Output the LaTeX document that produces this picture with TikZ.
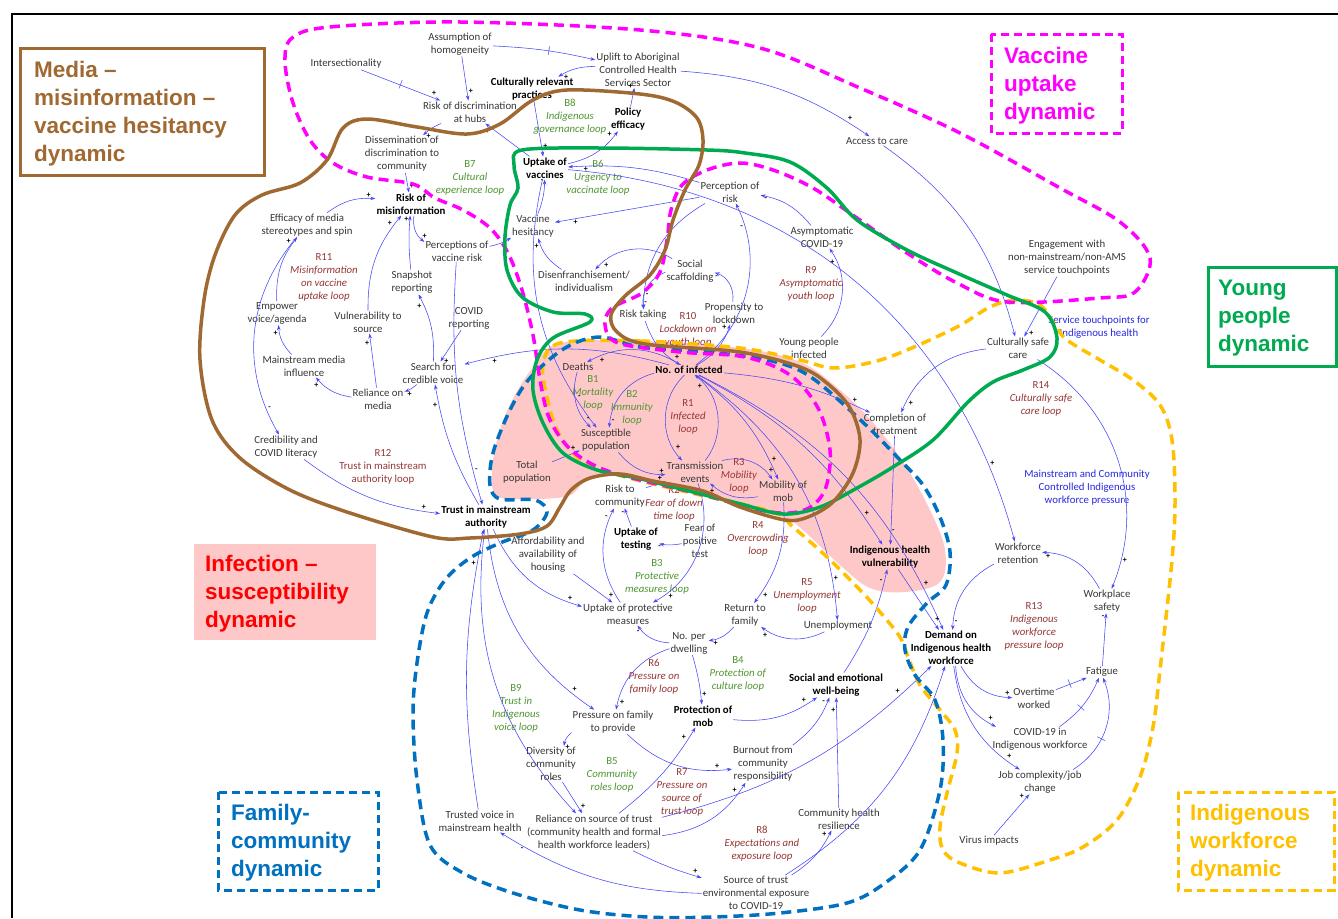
\documentclass[tikz,border=0pt]{standalone}
\usepackage{fontspec}
\setmainfont{Carlito}
\newfontfamily\bigf{Liberation Sans}
\usetikzlibrary{arrows.meta}
\definecolor{vtx}{RGB}{55,55,55}
\definecolor{rtx}{RGB}{150,55,55}
\definecolor{btx}{RGB}{80,150,50}
\definecolor{arc}{RGB}{70,70,250}
\definecolor{lbl}{RGB}{40,40,225}
\definecolor{mag}{RGB}{255,0,255}
\definecolor{grn}{RGB}{0,170,80}
\definecolor{brn}{RGB}{160,105,50}
\definecolor{bdsh}{RGB}{0,112,192}
\definecolor{ora}{RGB}{255,192,0}
\definecolor{pnk}{RGB}{255,200,200}
\newcommand{\itl}[1]{\textit{#1}}
\newcommand{\lnk}[4]{\draw[ar] (#1) to[#3] node[sg,pos=.88,auto]{#4} (#2);}
\tikzset{
 v/.style={font=\fontsize{10.8}{13}\selectfont, text=vtx, align=center, inner sep=1pt},
 vb/.style={v, font=\fontsize{10.8}{13}\selectfont\bfseries, text=black},
 rl/.style={v, text=rtx},
 bl/.style={v, text=btx},
 el/.style={v, text=lbl},
 ar/.style={draw=arc, line width=0.55pt, -{Stealth[length=5pt,width=3.5pt]}},
 sg/.style={font=\fontsize{8}{8}\selectfont\bfseries, text=black, inner sep=1pt},
 dl/.style={sloped, inner sep=0pt, font=\fontsize{10}{10}\selectfont, text=arc},
 big/.style={font=\bigf\bfseries\fontsize{22.5}{28}\selectfont, align=left, inner sep=0pt, anchor=north west},
 reg/.style={line width=3.5pt, line join=round},
 dreg/.style={line width=3.5pt, dash pattern=on 10pt off 6pt},
}
\begin{document}
\begin{tikzpicture}[x=1pt,y=-1pt]
\useasboundingbox (0,0) rectangle (1338,918);
\fill[white] (0,0) rectangle (1338,918);
\draw[line width=1.5pt] (12,918) -- (12,14) -- (1338,14);

% pink infection region
\fill[pnk] plot[smooth cycle, tension=0.6] coordinates {(560,343) (640,341) (740,348) (800,362) (840,390) (875,425) (905,465) (930,510) (945,550) (940,582) (905,592) (870,588) (840,565) (805,532) (785,518) (740,508) (700,492) (650,480) (610,476) (585,482) (568,496) (530,499) (497,496) (492,470) (500,430) (515,395) (535,365)};

% ---------- nodes ----------
\node[v] (assum) at (460,44) {Assumption of\\homogeneity};
\node[v] (inter) at (346,64) {Intersectionality};
\node[v] (uplift) at (638,70) {Uplift to Aboriginal\\Controlled Health\\Services Sector};
\node[vb] (crp) at (532,89) {Culturally relevant\\practices};
\node[v] (rdh) at (470,112) {Risk of discrimination\\at hubs};
\node[bl] (b8) at (570,117) {B8\\\itl{Indigenous}\\\itl{governance loop}};
\node[vb] (policy) at (628,119) {Policy\\efficacy};
\node[v] (access) at (877,141) {Access to care};
\node[v] (dissem) at (402,154) {Dissemination of\\discrimination to\\community};
\node[vb] (uptv) at (545,168) {Uptake of\\vaccines};
\node[bl] (b6) at (598,178) {B6\\\itl{Urgency to}\\\itl{vaccinate loop}};
\node[bl] (b7) at (470,178) {B7\\\itl{Cultural}\\\itl{experience loop}};
\node[v] (perc) at (730,192) {Perception of\\risk};
\node[vb] (rmis) at (411,204) {Risk of\\misinformation};
\node[v] (effic) at (307,225) {Efficacy of media\\stereotypes and spin};
\node[v] (vhes) at (533,226) {Vaccine\\hesitancy};
\node[v] (asym) at (822,237) {Asymptomatic\\COVID-19};
\node[v] (pvr) at (457,251) {Perceptions of\\vaccine risk};
\node[v] (engage) at (1067,258) {Engagement with\\non-mainstream/non-AMS\\service touchpoints};
\node[rl] (r11) at (324,277) {R11\\\itl{Misinformation}\\\itl{on vaccine}\\\itl{uptake loop}};
\node[v] (social) at (690,271) {Social\\scaffolding};
\node[v] (disen) at (584,281) {Disenfranchisement/\\individualism};
\node[rl] (r9) at (811,284) {R9\\\itl{Asymptomatic}\\\itl{youth loop}};
\node[v] (snap) at (412,282) {Snapshot\\reporting};
\node[v] (empower) at (277,313) {Empower\\voice/agenda};
\node[v] (vuln) at (368,322) {Vulnerability to\\source};
\node[v] (covrep) at (469,318) {COVID\\reporting};
\node[v] (propen) at (734,313) {Propensity to\\lockdown};
\node[v] (risktake) at (643,315) {Risk taking};
\node[rl] (r10) at (688,330) {R10\\\itl{Lockdown on}\\\itl{youth loop}};
\node[el] (stp) at (1099,327) {Service touchpoints for\\Indigenous health};
\node[v] (csc) at (1018,348) {Culturally safe\\care};
\node[v] (ypi) at (809,348) {Young people\\infected};
\node[v] (mmi) at (304,366) {Mainstream media\\influence};
\node[v] (search) at (433,373) {Search for\\credible voice};
\node[v] (deaths) at (578,367) {Deaths};
\node[vb] (noinf) at (689,370) {No. of infected};
\node[rl] (r14) at (1041,399) {R14\\\itl{Culturally safe}\\\itl{care loop}};
\node[v] (relmed) at (378,399) {Reliance on\\media};
\node[bl] (b1) at (593,393) {B1\\\itl{Mortality}\\\itl{loop}};
\node[bl] (b2) at (632,408) {B2\\\itl{Immunity}\\\itl{loop}};
\node[rl] (r1) at (688,417) {R1\\\itl{Infected}\\\itl{loop}};
\node[v] (compl) at (895,424) {Completion of\\treatment};
\node[v] (suscep) at (606,440) {Susceptible\\population};
\node[v] (cred) at (286,447) {Credibility and\\COVID literacy};
\node[rl] (r12) at (383,467) {R12\\Trust in mainstream\\authority loop};
\node[v] (totpop) at (527,472) {Total\\population};
\node[v] (trans) at (695,472) {Transmission\\events};
\node[rl] (r3) at (739,476) {R3\\\itl{Mobility}\\\itl{loop}};
\node[v] (mobil) at (783,491) {Mobility of\\mob};
\node[el] (mccl) at (1087,488) {Mainstream and Community\\Controlled Indigenous\\workforce pressure};
\node[rl] (r2) at (674,504) {R2\\\itl{Fear of down}\\\itl{time loop}};
\node[v] (riskcom) at (620,496) {Risk to\\community};
\node[vb] (trust) at (486,517) {Trust in mainstream\\authority};
\node[vb] (upttest) at (636,539) {Uptake of\\testing};
\node[v] (fear) at (700,541) {Fear of\\positive\\test};
\node[rl] (r4) at (758,539) {R4\\\itl{Overcrowding}\\\itl{loop}};
\node[v] (afford) at (548,555) {Affordability and\\availability of\\housing};
\node[vb] (ihv) at (890,557) {Indigenous health\\vulnerability};
\node[v] (wret) at (1018,553) {Workforce\\retention};
\node[bl] (b3) at (657,577) {B3\\\itl{Protective}\\\itl{measures loop}};
\node[rl] (r5) at (807,596) {R5\\\itl{Unemployment}\\\itl{loop}};
\node[v] (uptpm) at (628,614) {Uptake of protective\\measures};
\node[v] (retfam) at (745,615) {Return to\\family};
\node[v] (wsafe) at (1107,601) {Workplace\\safety};
\node[v] (unemp) at (838,626) {Unemployment};
\node[rl] (r13) at (1034,626) {R13\\\itl{Indigenous}\\\itl{workforce}\\\itl{pressure loop}};
\node[v] (noperd) at (689,643) {No. per\\dwelling};
\node[vb] (demand) at (951,648) {Demand on\\Indigenous health\\workforce};
\node[rl] (r6) at (654,677) {R6\\\itl{Pressure on}\\\itl{family loop}};
\node[bl] (b4) at (738,674) {B4\\\itl{Protection of}\\\itl{culture loop}};
\node[vb] (sewb) at (836,685) {Social and emotional\\well-being};
\node[v] (fatigue) at (1102,672) {Fatigue};
\node[bl] (b9) at (516,708) {B9\\\itl{Trust in}\\\itl{Indigenous}\\\itl{voice loop}};
\node[v] (overt) at (1034,698) {Overtime\\worked};
\node[v] (pfam) at (613,722) {Pressure on family\\to provide};
\node[vb] (protmob) at (703,716) {Protection of\\mob};
\node[v] (covwf) at (1040,739) {COVID-19 in\\Indigenous workforce};
\node[v] (divers) at (551,764) {Diversity of\\community\\roles};
\node[bl] (b5) at (612,775) {B5\\\itl{Community}\\\itl{roles loop}};
\node[v] (burn) at (763,764) {Burnout from\\community\\responsibility};
\node[rl] (r7) at (682,792) {R7\\\itl{Pressure on}\\\itl{source of}\\\itl{trust loop}};
\node[v] (jobc) at (1040,782) {Job complexity/job\\change};
\node[v] (tvoice) at (480,821) {Trusted voice in\\mainstream health};
\node[v] (relsrc) at (594,832) {Reliance on source of trust\\(community health and formal\\health workforce leaders)};
\node[v] (chr) at (839,819) {Community health\\resilience};
\node[rl] (r8) at (762,844) {R8\\\itl{Expectations and}\\\itl{exposure loop}};
\node[v] (virus) at (989,841) {Virus impacts};
\node[v] (srcenv) at (756,893) {Source of trust\\environmental exposure\\to COVID-19};

% ---------- links ----------
\lnk{assum}{rdh}{}{+}
\draw[ar] (assum) to[bend left=5] node[dl,pos=.55]{|} (uplift);
\draw[ar] (inter) to node[dl,pos=.5]{|} node[sg,pos=.88,auto]{+} (rdh);
\lnk{uplift}{crp}{bend right=15}{+}
\lnk{crp}{uptv}{}{+}
\lnk{uptv}{policy}{bend right=20}{+}
\lnk{policy}{uplift}{}{+}
\lnk{uptv}{rdh}{}{+}
\lnk{uplift}{access}{bend left=15}{+}
\lnk{access}{csc}{bend left=20}{+}
\lnk{engage}{csc}{}{+}
\lnk{rdh}{dissem}{bend right=10}{+}
\lnk{dissem}{rmis}{}{+}
\lnk{effic}{rmis}{bend left=20}{+}
\lnk{rmis}{pvr}{bend right=30}{+}
\lnk{snap}{rmis}{bend left=5}{+}
\lnk{vuln}{rmis}{bend left=20}{+}
\lnk{pvr}{vhes}{bend right=10}{+}
\lnk{disen}{vhes}{bend left=20}{+}
\lnk{vhes}{uptv}{bend right=10}{-}
\lnk{perc}{vhes}{}{+}
\lnk{perc}{uptv}{bend right=10}{+}
\lnk{asym}{perc}{bend right=20}{-}
\lnk{ypi}{asym}{bend right=40}{+}
\lnk{noinf}{perc}{bend right=40}{-}
\lnk{perc}{risktake}{bend right=30}{-}
\lnk{social}{risktake}{bend right=40}{-}
\lnk{propen}{social}{bend right=40}{-}
\lnk{noinf}{propen}{bend right=20}{+}
\lnk{risktake}{noinf}{bend right=20}{+}
\lnk{social}{disen}{bend right=40}{+}
\lnk{empower}{effic}{bend left=20}{+}
\lnk{mmi}{empower}{bend left=20}{+}
\lnk{effic}{cred}{bend right=35}{-}
\lnk{cred}{trust}{bend right=15}{+}
\lnk{relmed}{mmi}{bend left=20}{+}
\lnk{relmed}{vuln}{}{+}
\lnk{search}{relmed}{bend left=10}{+}
\lnk{covrep}{search}{}{+}
\lnk{trust}{search}{bend left=10}{+}
\lnk{noinf}{search}{bend right=15}{+}
\lnk{search}{snap}{bend right=15}{+}
\lnk{pvr}{trust}{bend right=10}{-}
\lnk{uptv}{suscep}{bend right=25}{-}
\lnk{noinf}{deaths}{bend right=30}{+}
\lnk{deaths}{suscep}{bend right=30}{-}
\lnk{noinf}{suscep}{bend right=35}{-}
\lnk{totpop}{suscep}{}{+}
\lnk{suscep}{trans}{bend right=25}{+}
\lnk{riskcom}{trans}{}{+}
\lnk{noinf}{trans}{bend right=45}{+}
\lnk{trans}{noinf}{bend right=45}{+}
\lnk{trans}{mobil}{bend left=35}{+}
\lnk{mobil}{trans}{bend left=25}{+}
\lnk{noinf}{mobil}{bend left=15}{+}
\lnk{noinf}{compl}{bend left=10}{+}
\lnk{csc}{compl}{bend right=30}{+}
\lnk{compl}{ihv}{}{-}
\lnk{noinf}{ihv}{bend left=15}{+}
\lnk{noinf}{unemp}{bend left=25}{+}
\lnk{noinf}{demand}{bend left=20}{+}
\lnk{uptv}{wret}{bend left=35}{+}
\lnk{wret}{demand}{bend right=30}{-}
\lnk{wsafe}{wret}{bend right=30}{+}
\lnk{csc}{wsafe}{bend left=40}{+}
\lnk{fatigue}{wsafe}{}{-}
\lnk{demand}{overt}{bend right=30}{+}
\lnk{demand}{covwf}{bend right=30}{+}
\lnk{demand}{jobc}{bend right=25}{+}
\draw[ar] (overt) to node[dl,pos=.45]{|} (fatigue);
\draw[ar] (covwf) to[bend right=15] node[dl,pos=.45]{|} (fatigue);
\draw[ar] (jobc) to[bend right=40] node[dl,pos=.4]{|} (fatigue);
\lnk{virus}{jobc}{}{+}
\lnk{ihv}{demand}{}{+}
\lnk{sewb}{ihv}{bend right=10}{-}
\lnk{retfam}{noperd}{bend left=20}{+}
\lnk{unemp}{retfam}{bend left=30}{+}
\lnk{mobil}{retfam}{bend left=20}{+}
\lnk{noperd}{uptpm}{bend left=25}{-}
\lnk{fear}{upttest}{bend left=10}{-}
\lnk{upttest}{riskcom}{}{-}
\lnk{uptpm}{riskcom}{bend left=30}{-}
\lnk{trans}{uptpm}{bend left=40}{+}
\lnk{afford}{uptpm}{}{+}
\lnk{trust}{uptpm}{bend right=25}{+}
\lnk{noperd}{pfam}{bend right=30}{+}
\lnk{noperd}{protmob}{bend left=5}{+}
\lnk{trust}{pfam}{bend right=25}{+}
\lnk{pfam}{divers}{bend right=20}{+}
\lnk{pfam}{burn}{bend right=25}{+}
\lnk{divers}{relsrc}{}{+}
\lnk{trust}{relsrc}{bend right=25}{-}
\lnk{tvoice}{trust}{bend left=10}{+}
\lnk{srcenv}{tvoice}{bend left=15}{-}
\lnk{relsrc}{srcenv}{bend right=5}{+}
\lnk{relsrc}{protmob}{bend right=10}{+}
\lnk{relsrc}{burn}{bend right=25}{+}
\lnk{relsrc}{demand}{bend right=15}{+}
\lnk{srcenv}{chr}{bend right=15}{+}
\lnk{srcenv}{demand}{bend right=20}{+}
\lnk{chr}{sewb}{}{+}
\lnk{burn}{sewb}{bend right=15}{-}
\lnk{protmob}{sewb}{bend right=20}{+}

% ---------- dynamic outlines ----------
\draw[dreg,ora] plot[smooth cycle, tension=0.55] coordinates {(560,343) (640,341) (740,348) (800,360) (833,368) (873,362) (907,350) (957,327) (990,307) (1015,300) (1040,305) (1055,325) (1067,340) (1100,360) (1133,380) (1160,405) (1172,440) (1175,500) (1172,560) (1160,670) (1153,727) (1140,777) (1117,820) (1083,847) (1050,860) (1000,873) (960,863) (943,850) (940,827) (947,793) (957,753) (955,730) (940,710) (920,685) (908,657) (900,637) (880,612) (860,590) (827,557) (793,527) (773,512) (700,495) (637,480) (603,470) (577,457) (557,430) (547,397) (543,365)};
\draw[dreg,bdsh] plot[smooth cycle, tension=0.55] coordinates {(600,337) (640,347) (707,352) (757,358) (792,367) (815,380) (842,403) (873,432) (900,460) (923,485) (940,517) (950,552) (946,585) (927,603) (908,627) (905,650) (915,675) (935,700) (943,740) (940,790) (920,850) (885,883) (847,903) (780,913) (713,917) (647,917) (580,910) (513,893) (463,873) (430,845) (417,780) (413,713) (417,663) (427,613) (445,580) (470,558) (500,543) (533,530) (547,512) (535,500) (500,499) (490,485) (493,453) (510,410) (530,378) (565,348)};
\draw[dreg,mag] plot[smooth cycle, tension=0.55] coordinates {(292,38) (330,27) (460,22) (640,30) (760,48) (860,88) (960,133) (1060,188) (1120,222) (1150,258) (1135,292) (1100,298) (1007,302) (957,283) (907,253) (857,218) (813,188) (773,170) (740,163) (707,170) (682,185) (671,210) (667,240) (660,272) (642,293) (612,308) (605,325) (618,343) (680,352) (745,357) (790,375) (818,408) (830,450) (826,487) (812,506) (790,513) (760,510) (700,494) (640,480) (605,470) (580,457) (562,440) (548,415) (540,380) (533,335) (522,290) (508,253) (490,228) (463,210) (435,198) (413,184) (367,177) (333,163) (310,140) (293,103) (285,62)};
\draw[reg,grn] plot[smooth cycle, tension=0.55] coordinates {(522,150) (600,148) (707,150) (745,153) (790,162) (827,188) (857,220) (907,250) (957,273) (1007,295) (1045,312) (1057,338) (1050,357) (1023,370) (993,382) (968,402) (933,440) (893,467) (857,488) (820,507) (783,514) (737,503) (677,488) (637,478) (597,470) (563,453) (543,423) (533,390) (537,360) (553,338) (590,322) (585,314) (553,312) (522,297) (507,270) (505,237) (510,205) (518,188) (514,165)};
\draw[reg,brn] plot[smooth cycle, tension=0.55] coordinates {(567,90) (640,94) (675,102) (697,118) (703,140) (699,165) (685,190) (673,220) (665,250) (650,275) (625,296) (611,315) (617,332) (645,344) (740,352) (800,367) (828,384) (850,408) (860,440) (853,473) (833,502) (808,517) (785,520) (740,507) (703,491) (653,481) (620,474) (590,478) (571,490) (560,507) (547,526) (520,534) (470,538) (433,537) (350,513) (290,490) (240,458) (212,420) (200,360) (204,300) (215,255) (235,215) (262,195) (300,183) (327,160) (343,128) (367,119) (417,127) (467,134) (500,124) (533,100)};

% ---------- dynamic labels ----------
\draw[brn, line width=3pt] (20,48) rectangle (264,175);
\node[big, text=brn] (lmedia) at (34,61) {Media –\\misinformation –\\vaccine hesitancy\\dynamic};
\draw[mag, line width=3pt, dash pattern=on 8pt off 5pt] (991,34) rectangle (1122,133);
\node[big, text=mag] (lvacc) at (1004,47) {Vaccine\\uptake\\dynamic};
\draw[grn, line width=3pt] (1208,267) rectangle (1336,366);
\node[big, text=grn] (lyoung) at (1218,280) {Young\\people\\dynamic};
\fill[pnk] (194,544) rectangle (376,640);
\node[big, text=red] (linf) at (205,555) {Infection –\\susceptibility\\dynamic};
\draw[bdsh, line width=3pt, dash pattern=on 8pt off 5pt] (218,792) rectangle (378,890);
\node[big, text=bdsh] (lfam) at (231,804) {Family-\\community\\dynamic};
\draw[ora, line width=3pt, dash pattern=on 8pt off 5pt] (1178,792) rectangle (1334,890);
\node[big, text=ora] (lind) at (1190,804) {Indigenous\\workforce\\dynamic};
\end{tikzpicture}
\end{document}
